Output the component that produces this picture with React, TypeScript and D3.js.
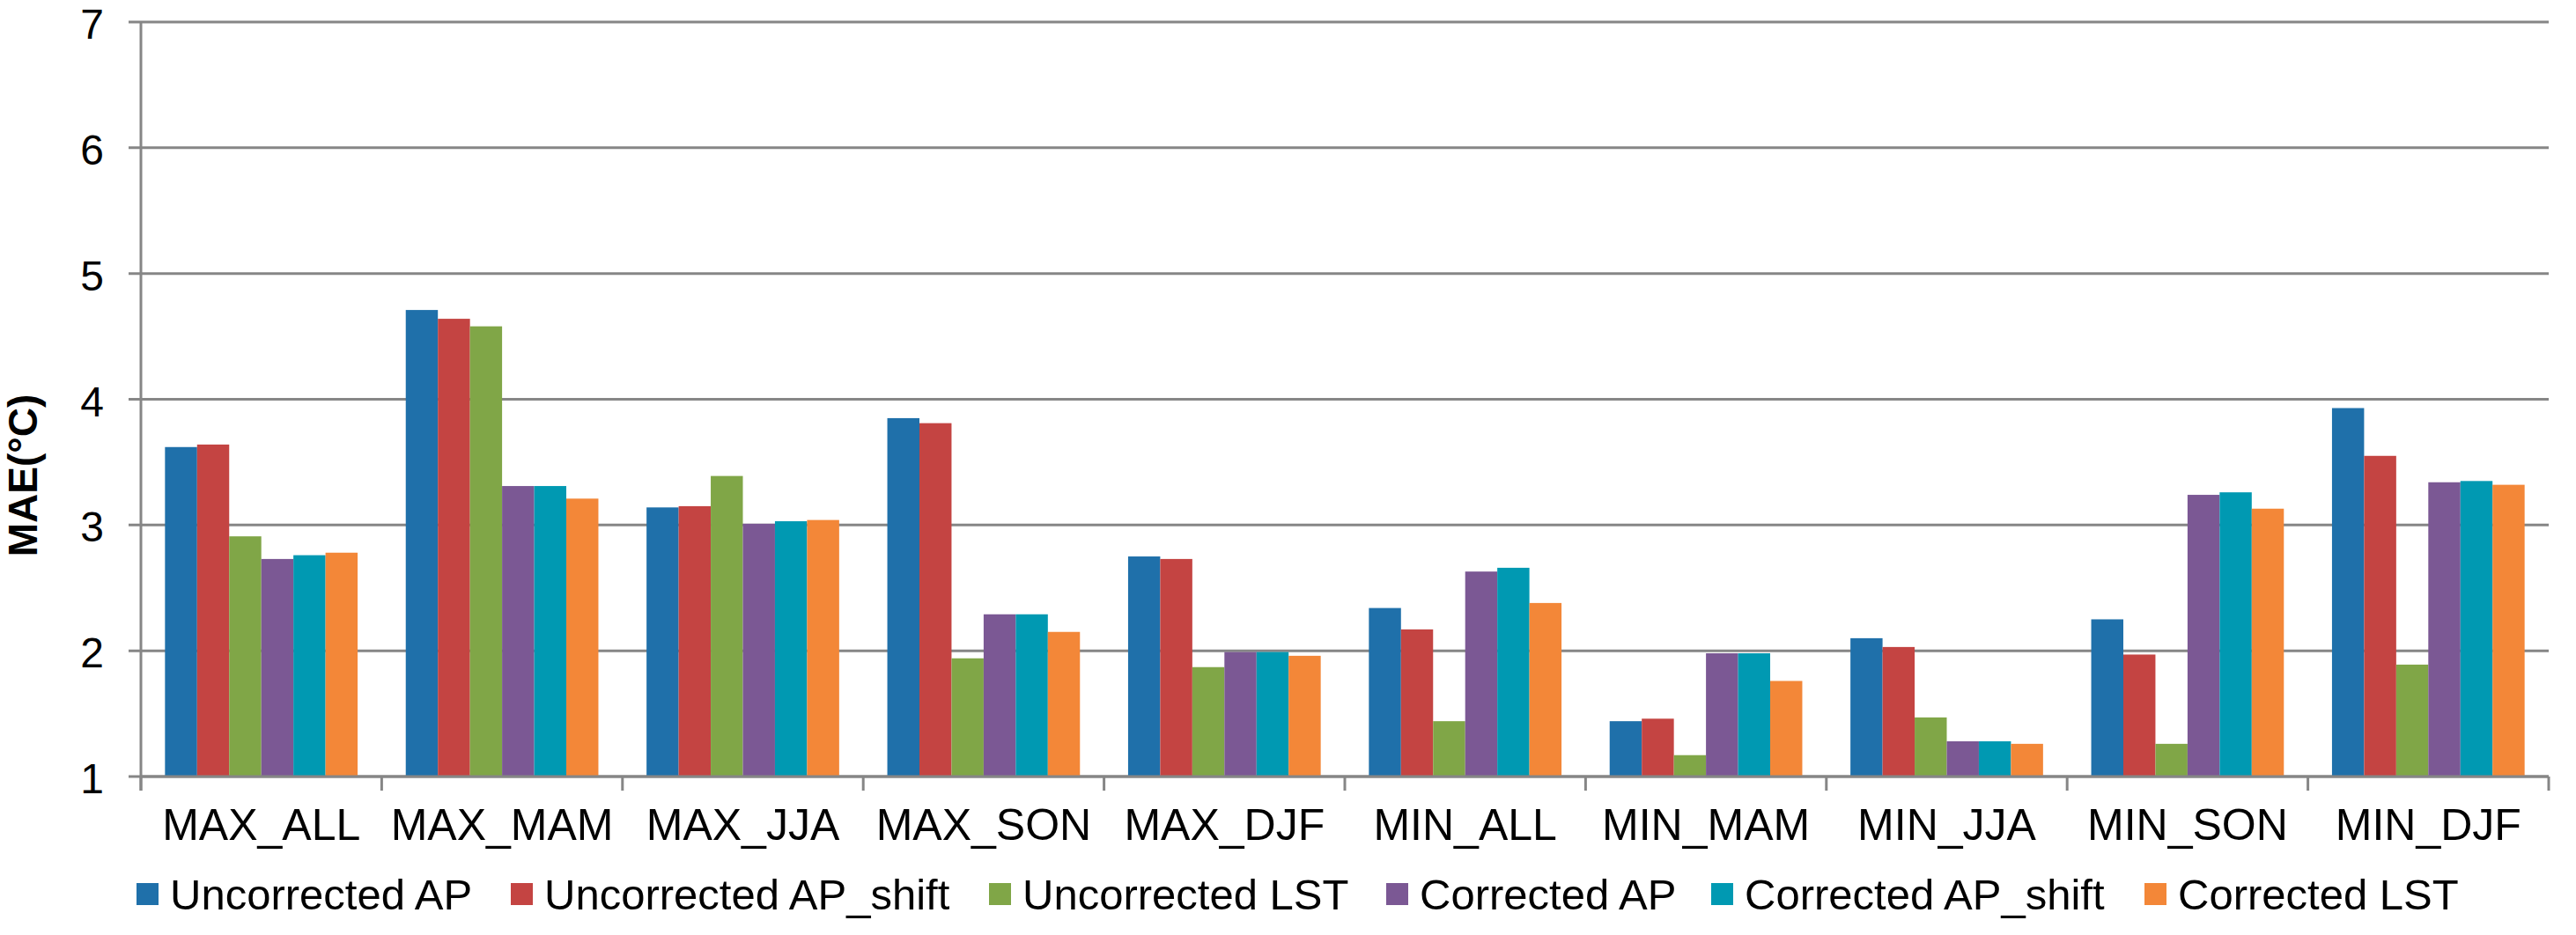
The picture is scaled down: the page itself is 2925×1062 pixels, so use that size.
import React from "react";
import * as d3 from "d3";

const categories = ["MAX_ALL", "MAX_MAM", "MAX_JJA", "MAX_SON", "MAX_DJF", "MIN_ALL", "MIN_MAM", "MIN_JJA", "MIN_SON", "MIN_DJF"];
const seriesNames = ["Uncorrected AP", "Uncorrected AP_shift", "Uncorrected LST", "Corrected AP", "Corrected AP_shift", "Corrected LST"];
const seriesColors = ["#1F70AA", "#C44442", "#80A647", "#7B5894", "#0099B2", "#F38738"];

const uncorrectedAP = [3.62, 4.71, 3.14, 3.85, 2.75, 2.34, 1.44, 2.10, 2.25, 3.93];
const uncorrectedAPShift = [3.64, 4.64, 3.15, 3.81, 2.73, 2.17, 1.46, 2.03, 1.97, 3.55];
const uncorrectedLST = [2.91, 4.58, 3.39, 1.94, 1.87, 1.44, 1.17, 1.47, 1.26, 1.89];
const correctedAP = [2.73, 3.31, 3.01, 2.29, 1.99, 2.63, 1.98, 1.28, 3.24, 3.34];
const correctedAPShift = [2.76, 3.31, 3.03, 2.29, 1.99, 2.66, 1.98, 1.28, 3.26, 3.35];
const correctedLST = [2.78, 3.21, 3.04, 2.15, 1.96, 2.38, 1.76, 1.26, 3.13, 3.32];

const seriesValues = [uncorrectedAP, uncorrectedAPShift, uncorrectedLST, correctedAP, correctedAPShift, correctedLST];
const yTicks = [1, 2, 3, 4, 5, 6, 7];

const W = 2925;
const H = 1062;
const left = 160;
const right = 2894;
const top = 25;
const bottom = 882;
const gridColor = "#868686";
const font = "'Liberation Sans', Arial, sans-serif";

// legend layout (x of marker start)
const legendX = [155, 580, 1123, 1574, 1943, 2435];

export default function App() {
  const x = d3.scaleBand<string>().domain(categories).range([left, right]).paddingInner(0).paddingOuter(0);
  const bw = x.bandwidth();
  const xs = d3.scaleBand<string>().domain(seriesNames).range([bw * 0.1, bw * 0.9]).padding(0);
  const y = d3.scaleLinear().domain([1, 7]).range([bottom, top]);

  const boundaries = categories.map((c) => x(c) as number).concat([right]);

  return (
    <svg width={W} height={H} style={{ position: "absolute", left: 0, top: 0, background: "#fff" }}>
      <rect x={0} y={0} width={W} height={H} fill="#fff" />
      {yTicks.map((t) => (
        <line key={"g" + t} x1={left - 14} x2={right} y1={y(t)} y2={y(t)} stroke={gridColor} strokeWidth={3} />
      ))}
      <line x1={left} x2={left} y1={top} y2={bottom + 16} stroke={gridColor} strokeWidth={3} />
      {boundaries.map((b, i) => (
        <line key={"xt" + i} x1={b} x2={b} y1={bottom} y2={bottom + 16} stroke={gridColor} strokeWidth={3} />
      ))}
      {categories.map((c, ci) => (
        <g key={c} transform={`translate(${x(c)},0)`}>
          {seriesNames.map((s, si) => {
            const v = seriesValues[si][ci];
            return (
              <rect
                key={s}
                x={xs(s) as number}
                y={y(v)}
                width={xs.bandwidth()}
                height={y(1) - y(v)}
                fill={seriesColors[si]}
              />
            );
          })}
        </g>
      ))}
      <line x1={left} x2={right} y1={bottom} y2={bottom} stroke={gridColor} strokeWidth={3} />
      {yTicks.map((t) => (
        <text key={"yl" + t} x={118} y={y(t) + 19} textAnchor="end" fontFamily={font} fontSize={48} fill="#000">
          {t}
        </text>
      ))}
      {categories.map((c) => (
        <text key={"xl" + c} x={(x(c) as number) + bw / 2} y={954} textAnchor="middle" fontFamily={font} fontSize={50} fill="#000">
          {c}
        </text>
      ))}
      <text
        transform={`translate(42,540) rotate(-90)`}
        textAnchor="middle"
        fontFamily={font}
        fontSize={46}
        fontWeight="bold"
        fill="#000"
      >
        MAE(°C)
      </text>
      {seriesNames.map((s, i) => (
        <g key={"lg" + s} transform={`translate(${legendX[i]},0)`}>
          <rect x={0} y={1003} width={25} height={25} fill={seriesColors[i]} />
          <text x={38} y={1033} fontFamily={font} fontSize={49} fill="#000">
            {s}
          </text>
        </g>
      ))}
    </svg>
  );
}
